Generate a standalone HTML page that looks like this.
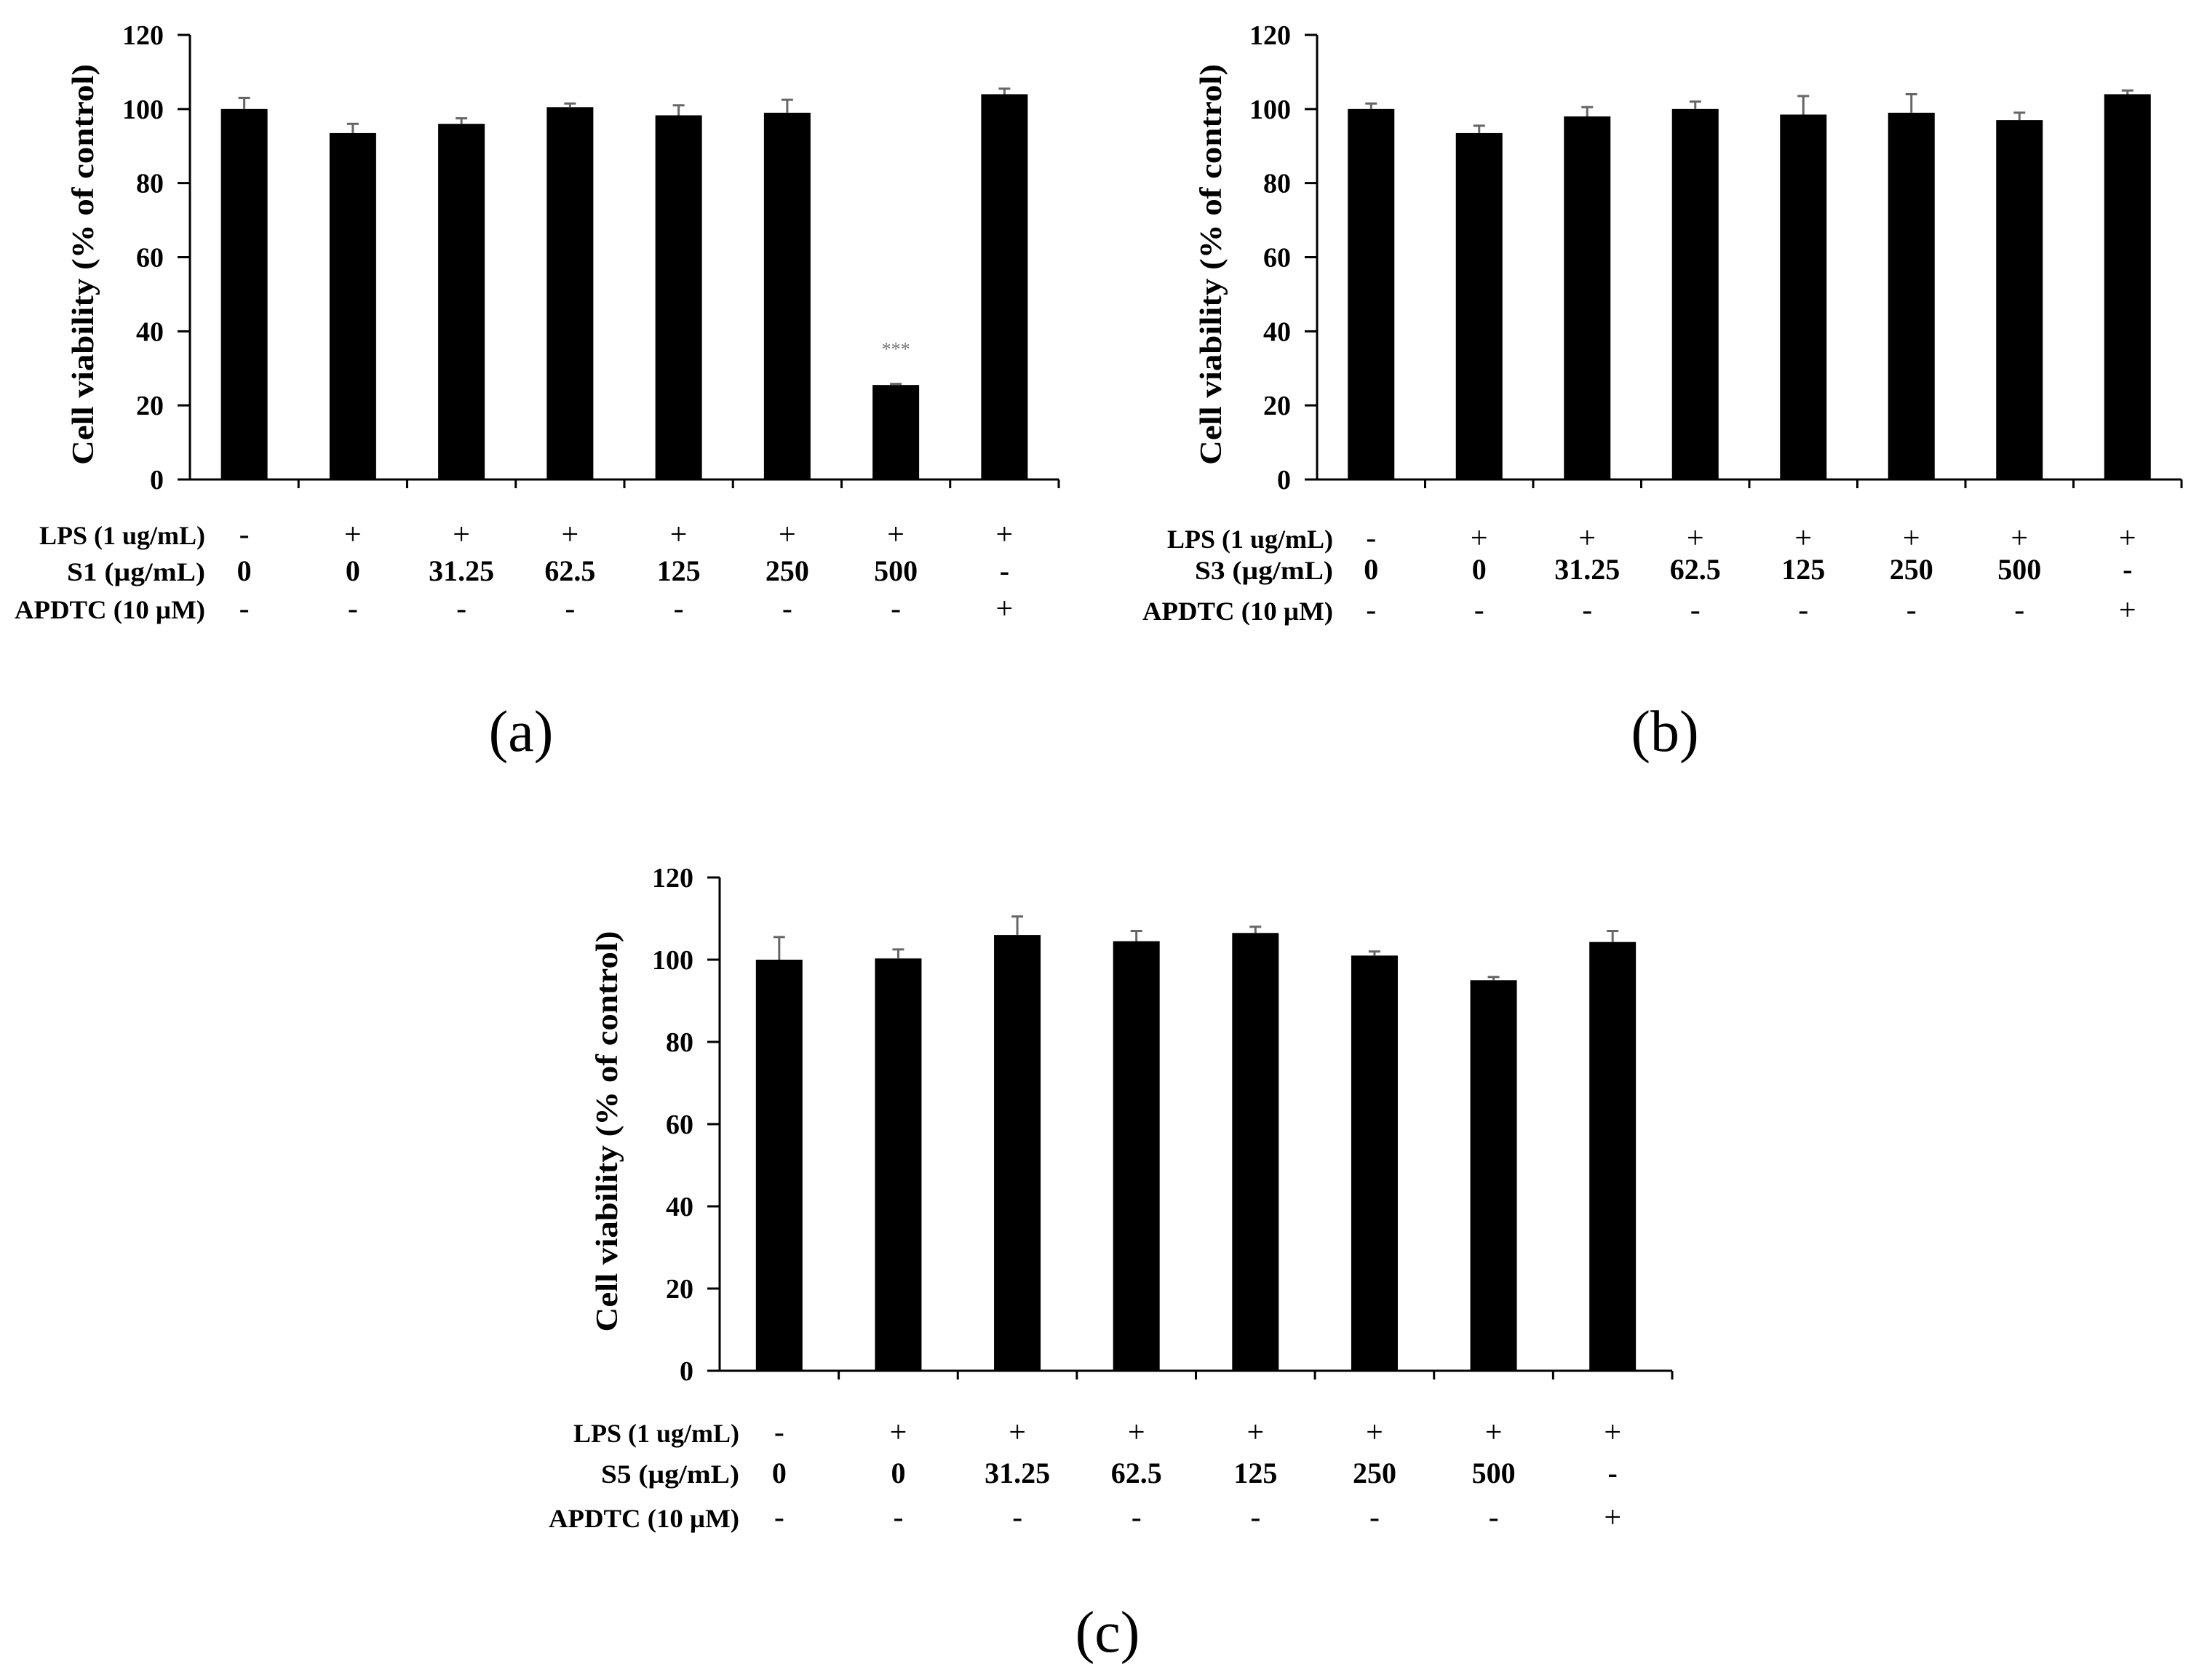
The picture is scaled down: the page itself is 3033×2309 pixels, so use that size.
<!DOCTYPE html>
<html><head><meta charset="utf-8"><style>
html,body{margin:0;padding:0;background:#fff;}
svg{display:block;}
text{font-family:"Liberation Serif",serif;}
</style></head><body>
<svg id="fig" width="3033" height="2309" viewBox="0 0 3033 2309" xmlns="http://www.w3.org/2000/svg">
<rect width="3033" height="2309" fill="#fff"/>
</svg>
<script>
const yTicks = [0, 20, 40, 60, 80, 100, 120];
const lpsRow = ["-", "+", "+", "+", "+", "+", "+", "+"];
const concRow = ["0", "0", "31.25", "62.5", "125", "250", "500", "-"];
const apdtcRow = ["-", "-", "-", "-", "-", "-", "-", "+"];
const valuesA = [100, 93.5, 96, 100.5, 98.3, 99, 25.5, 104];
const errorsA = [3, 2.5, 1.5, 1, 2.7, 3.5, 0.3, 1.5];
const valuesB = [100, 93.5, 98, 100, 98.5, 99, 97, 104];
const errorsB = [1.5, 2, 2.5, 2, 5, 5, 2, 1];
const valuesC = [100, 100.3, 106, 104.5, 106.5, 101, 95, 104.3];
const errorsC = [5.5, 2.2, 4.5, 2.5, 1.5, 1, 0.8, 2.7];

const NS = "http://www.w3.org/2000/svg";
const svg = document.getElementById("fig");
function mk(tag, attrs, parent, txt) {
  const e = document.createElementNS(NS, tag);
  for (const k in attrs) e.setAttribute(k, attrs[k]);
  if (txt !== undefined) e.textContent = txt;
  (parent || svg).appendChild(e);
  return e;
}

function panel(cfg) {
  const g = mk("g", {});
  
  
  const yMax = 120;
  const ys = v => cfg.y0 - (v / yMax) * (cfg.y0 - cfg.yTop);
  const n = cfg.values.length;
  const cw = (cfg.x1 - cfg.x0) / n;
  const xs = i => cfg.x0 + cw * (i + 0.5);
  const bw = 64;

  cfg.values.forEach((v, i) => {
    const r = mk("rect", {x: xs(i) - bw / 2, y: ys(v), width: bw, height: cfg.y0 - ys(v), fill: "#000"}, g);
    
    
    const top = ys(v + cfg.errors[i]);
    const eb = mk("path", {d: `M${xs(i)},${ys(v)} V${top} M${xs(i) - 8},${top} H${xs(i) + 8}`, stroke: "#666", "stroke-width": 3, fill: "none"}, g);
    
    
  });

  const ax = mk("path", {d: `M${cfg.x0},${cfg.yTop} V${cfg.y0} H${cfg.x1}`, stroke: "#000", "stroke-width": 3, fill: "none"}, g);
  
  
  for (let i = 1; i <= n; i++) {
    const x = cfg.x0 + cw * i;
    const t = mk("line", {x1: x, x2: x, y1: cfg.y0, y2: cfg.y0 + 12, stroke: "#000", "stroke-width": 3}, g);
    
    
  }
  yTicks.forEach(v => {
    const t = mk("line", {x1: cfg.x0 - 17, x2: cfg.x0, y1: ys(v), y2: ys(v), stroke: "#000", "stroke-width": 3}, g);
    
    
    const l = mk("text", {x: cfg.x0 - 36, y: ys(v) + 13, "text-anchor": "end", "font-size": 38, "font-weight": "bold"}, g, String(v));
    
    
  });
  const yc = (cfg.y0 + cfg.yTop) / 2 + 10;
  const tt = mk("text", {x: 0, y: 0, transform: `translate(${cfg.titleX},${yc}) rotate(-90)`, "text-anchor": "middle", "font-size": 42, "font-weight": "bold", textLength: 551, lengthAdjust: "spacingAndGlyphs"}, g, "Cell viability (% of control)");
  
  

  if (cfg.star !== undefined) {
    const s = mk("text", {x: xs(cfg.star), y: ys(cfg.values[cfg.star] + 8), "text-anchor": "middle", "font-size": 26, fill: "#777"}, g, "***");
    
    
  }

  const rows = [
    {label: "LPS (1 ug/mL)", vals: lpsRow, y: cfg.rowY[0], w: 228},
    {label: cfg.sample + " (\u00b5g/mL)", vals: concRow, y: cfg.rowY[1], w: 190},
    {label: "APDTC (10 \u00b5M)", vals: apdtcRow, y: cfg.rowY[2], w: 262}
  ];
  rows.forEach((r, ri) => {
    const l = mk("text", {x: cfg.labelRight, y: r.y, "text-anchor": "end", "font-size": 36, "font-weight": "bold", textLength: r.w, lengthAdjust: "spacingAndGlyphs"}, g, r.label);
    
    
    r.vals.forEach((v, i) => {
      const t = mk("text", {x: xs(i), y: r.y, "text-anchor": "middle", "font-size": ri === 1 ? 40 : 42, "font-weight": ri === 1 ? "bold" : "normal"}, g, v);
      
      
    });
  });

  const pl = mk("text", {x: cfg.capX, y: cfg.capY, "text-anchor": "middle", "font-size": 80}, g, "(" + cfg.id + ")");
  
  
}

panel({id: "a", sample: "S1", values: valuesA, errors: errorsA, x0: 261, x1: 1455, yTop: 48, y0: 659, titleX: 128, labelRight: 282, rowY: [748, 798, 850], capX: 716, capY: 1032, star: 6});
panel({id: "b", sample: "S3", values: valuesB, errors: errorsB, x0: 1810, x1: 2998, yTop: 48, y0: 659, titleX: 1678, labelRight: 1832, rowY: [753, 796, 852], capX: 2288, capY: 1032});
panel({id: "c", sample: "S5", values: valuesC, errors: errorsC, x0: 989, x1: 2298, yTop: 1206, y0: 1884, titleX: 848, labelRight: 1016, rowY: [1982, 2038, 2099], capX: 1522, capY: 2270});
</script>
</body></html>
